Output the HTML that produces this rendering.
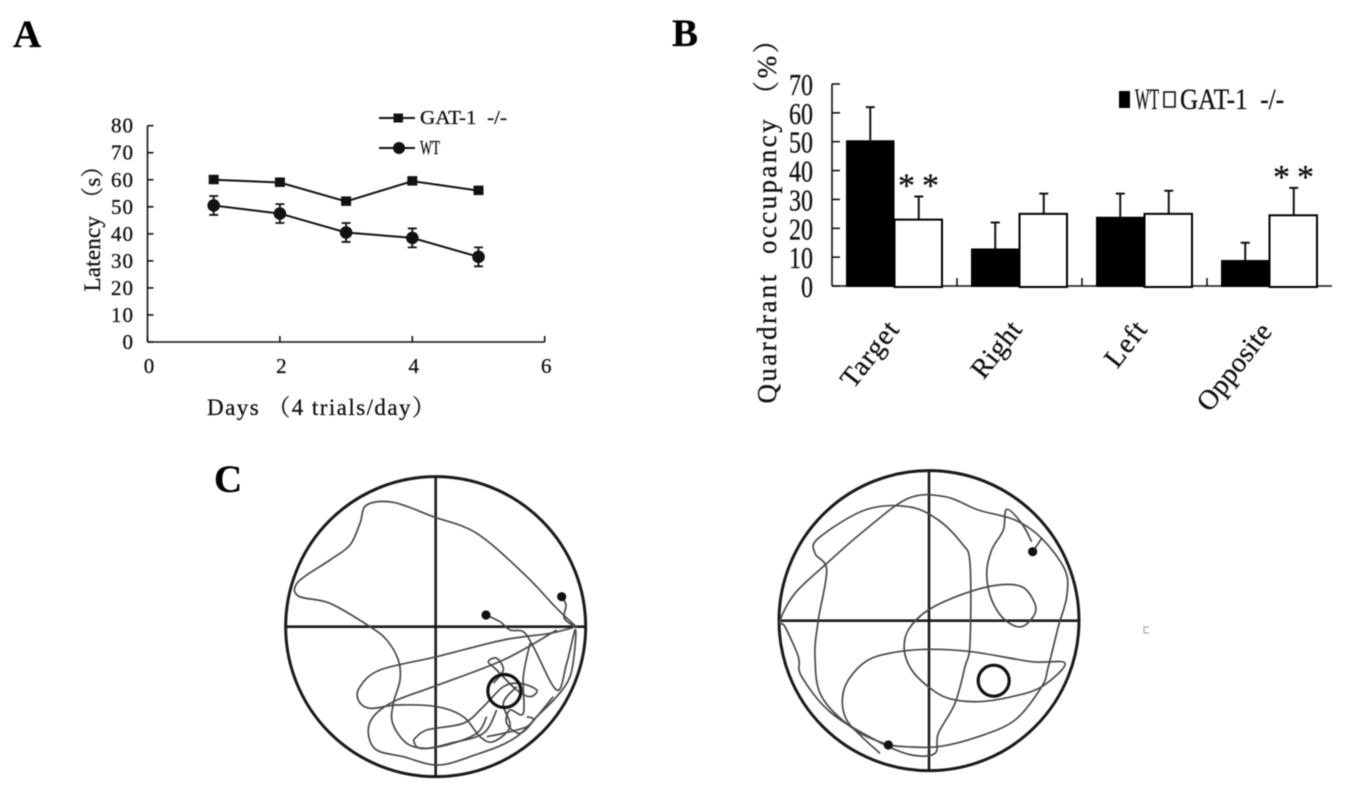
<!DOCTYPE html>
<html lang="en">
<head>
<meta charset="utf-8">
<title>Latency, quadrant occupancy and swim paths</title>
<style>
html,body{margin:0;padding:0;background:#fff;width:1351px;height:800px;overflow:hidden}
svg{display:block;font-family:"Liberation Serif","Noto Serif CJK SC",serif;filter:blur(0.45px)}
text{fill:#111;stroke:#111;stroke-width:.3;white-space:pre}
</style>
</head>
<body>
<svg id="figure" xmlns="http://www.w3.org/2000/svg" width="1351" height="800" viewBox="0 0 1351 800">
  <text x="13" y="47" font-size="39" font-weight="bold" style="fill:#000">A</text>
  <text x="672" y="46" font-size="39" font-weight="bold" style="fill:#000">B</text>
  <text x="214" y="492" font-size="39" font-weight="bold" style="fill:#000">C</text>

  <g id="chartA"></g>
  <g id="chartB"></g>
  <g id="mazeL"></g>
  <g id="mazeR"></g>

  <path d="M1149 627H1144V633H1149" fill="none" stroke="#999" stroke-width="1"/>
</svg>
<script>
// ---------- Chart A data ----------
const days = [1, 2, 3, 4, 5];
const gatLatency = [60, 59, 52, 59.5, 56];
const wtLatency = [50.5, 47.5, 40.5, 38.5, 31.5];
const wtLatencyError = [3.5, 3.5, 3.5, 3.5, 3.5];
const latencyTicks = [0, 10, 20, 30, 40, 50, 60, 70, 80];
const dayTicks = [0, 2, 4, 6];

// ---------- Chart B data ----------
const quadrants = ['Target', 'Right', 'Left', 'Opposite'];
const wtOccupancy = [50.5, 13, 24, 9];
const gatOccupancy = [23, 25, 25, 24.5];
const wtOccupancyTop = [62, 22, 32, 15];
const gatOccupancyTop = [31, 32, 33, 34];
const occupancyTicks = [0, 10, 20, 30, 40, 50, 60, 70];
const significantQuadrants = ['Target', 'Opposite'];

// ---------- Swim paths (maze coordinates) ----------
const leftStart = [648, 435];
const leftEnd = [875, 380];
const leftPlatform = [703, 663];
const leftPaths = [
  [[875,380],[888,405],[883,445],[918,470],[860,415],[760,310],[620,190],[490,140],[370,97],[290,105],[270,160],[240,225],[180,270],[85,335],[85,378],[180,400],[300,470],[350,510],[385,570],[390,630],[370,700],[368,760],[410,820],[470,835],[540,820],[640,790],[680,720]],
  [[648,435],[690,455],[720,480],[760,485],[790,530],[860,660],[890,580],[915,480],[915,530],[900,620],[860,680],[800,740],[770,770],[700,790],[650,800]],
  [[918,470],[840,490],[700,510],[500,560],[330,600],[270,650],[265,690],[300,715],[380,705],[500,710],[580,740],[630,800],[670,815],[720,770],[700,700],[740,650]],
  [[860,480],[700,570],[490,650],[370,695],[310,740],[295,790],[320,840],[400,860],[500,885],[600,860],[740,800],[850,680]],
  [[780,520],[760,620],[760,730],[720,720],[710,760],[750,790],[790,750],[770,740]],
  [[430,810],[470,780],[580,760],[640,710],[700,650],[750,640],[800,660],[780,680],[740,660],[680,600],[655,575],[680,565],[700,600],[670,640]],
  [[430,810],[450,835],[530,825],[620,790],[650,740]]
];
const rightStart = [803, 245];
const rightEnd = [370, 825];
const rightPlatform = [686, 632];
const rightPaths = [
  [[803,245],[830,205]],
  [[800,215],[770,160],[725,118],[715,180],[680,240],[665,310],[680,390],[720,450],[770,470],[810,430],[805,390],[770,350],[700,345],[600,370],[490,420],[430,480],[418,540],[440,600],[490,650],[550,685],[640,695],[740,680],[830,650],[900,580],[800,575],[620,545],[500,538],[400,545],[310,570],[250,630],[232,690],[245,750],[290,800],[345,850]],
  [[370,825],[270,780],[170,680],[150,560],[160,450],[185,300],[150,250],[160,205],[300,120],[430,110],[520,150],[590,220],[615,280],[615,520],[600,590],[570,700],[520,790],[510,850],[440,855],[350,820],[200,730],[110,620],[100,560],[60,470],[45,452],[90,370],[180,285],[300,180],[430,85],[540,80],[640,120],[750,150],[830,205],[900,300],[905,380],[880,470],[850,590],[830,650],[750,750],[640,800],[520,830],[420,830],[370,825]]
];

// ---------- Helpers ----------
const NS = 'http://www.w3.org/2000/svg';
function mk(tag, attrs, parent) {
  const el = document.createElementNS(NS, tag);
  for (const k in attrs) el.setAttribute(k, attrs[k]);
  parent.appendChild(el);
  return el;
}
function line(parent, x1, y1, x2, y2, w, color) {
  return mk('line', {x1: x1, y1: y1, x2: x2, y2: y2, stroke: color || '#111', 'stroke-width': w}, parent);
}
function label(parent, s, x, y, size, anchor, len, extra, adjust) {
  const a = Object.assign({x: x, y: y, 'font-size': size, 'text-anchor': anchor || 'start'}, extra || {});
  if (len) { a.textLength = len; a.lengthAdjust = adjust || 'spacingAndGlyphs'; }
  const t = mk('text', a, parent);
  t.textContent = s;
  return t;
}
function smooth(pts, tx, ty) {
  let d = 'M' + tx(pts[0][0]).toFixed(1) + ' ' + ty(pts[0][1]).toFixed(1);
  for (let i = 0; i < pts.length - 1; i++) {
    const p0 = pts[Math.max(i - 1, 0)], p1 = pts[i], p2 = pts[i + 1], p3 = pts[Math.min(i + 2, pts.length - 1)];
    const c1x = p1[0] + (p2[0] - p0[0]) / 6, c1y = p1[1] + (p2[1] - p0[1]) / 6;
    const c2x = p2[0] - (p3[0] - p1[0]) / 6, c2y = p2[1] - (p3[1] - p1[1]) / 6;
    d += 'C' + tx(c1x).toFixed(1) + ' ' + ty(c1y).toFixed(1) + ' ' + tx(c2x).toFixed(1) + ' ' + ty(c2y).toFixed(1) + ' ' + tx(p2[0]).toFixed(1) + ' ' + ty(p2[1]).toFixed(1);
  }
  return d;
}

// ---------- Chart A ----------
(function () {
  const g = document.getElementById('chartA');
  const xA = v => 147.5 + v * (544.7 - 147.5) / 6;
  const yA = v => 342 - v * (342 - 125.7) / 80;
  const xAxis = line(g, xA(0), yA(0), xA(6), yA(0), 1.6);
  
  
  const yAxis = line(g, xA(0), yA(0), xA(0), yA(80), 1.6);
  
  
  latencyTicks.forEach(v => {
    const t = line(g, xA(0), yA(v), xA(0) + 6, yA(v), 1.6);
    
    
    const l = label(g, String(v), 133, yA(v) + 7, 21, 'end', String(v).length * 11, null, 'spacing');
    
    
  });
  dayTicks.forEach(v => {
    const t = line(g, xA(v), yA(0), xA(v), yA(0) - 6, 1.6);
    
    
    const l = label(g, String(v), xA(v) + 1.5, 373, 21, 'middle');
    
    
  });
  const xt = label(g, 'Days （4 trials/day）', 207, 415, 23, 'start', 228, null, 'spacing');
  
  
  const yt = label(g, 'Latency （s）', 0, 0, 23, 'middle', 137, {transform: 'translate(100 223) rotate(-90)'}, 'spacing');
  
  

  const gatLine = mk('polyline', {points: days.map((d, i) => xA(d) + ',' + yA(gatLatency[i])).join(' '), fill: 'none', stroke: '#111', 'stroke-width': 2}, g);
  
  
  const wtLine = mk('polyline', {points: days.map((d, i) => xA(d) + ',' + yA(wtLatency[i])).join(' '), fill: 'none', stroke: '#111', 'stroke-width': 2}, g);
  
  
  days.forEach((d, i) => {
    const sq = mk('rect', {x: xA(d) - 5, y: yA(gatLatency[i]) - 5, width: 10, height: 9.5, fill: '#111'}, g);
    
    
    const hi = yA(wtLatency[i] + wtLatencyError[i]), lo = yA(wtLatency[i] - wtLatencyError[i]);
    const eb = mk('path', {d: 'M' + (xA(d) - 4.5) + ' ' + hi + 'H' + (xA(d) + 4.5) + 'M' + xA(d) + ' ' + hi + 'V' + lo + 'M' + (xA(d) - 4.5) + ' ' + lo + 'H' + (xA(d) + 4.5), fill: 'none', stroke: '#111', 'stroke-width': 1.8}, g);
    
    
    const c = mk('circle', {cx: xA(d), cy: yA(wtLatency[i]), r: 6.3, fill: '#111'}, g);
    
    
  });
  const k1 = line(g, 379, 118, 415, 118, 2);
  
  
  const k1m = mk('rect', {x: 393.5, y: 113.5, width: 9.5, height: 9, fill: '#111'}, g);
  
  
  const k1t = label(g, 'GAT-1  -/-', 420, 124, 20, 'start', 87);
  
  
  const k2 = line(g, 379, 148, 415, 148, 2);
  
  
  const k2m = mk('circle', {cx: 399, cy: 148, r: 6, fill: '#111'}, g);
  
  
  const k2t = label(g, 'WT', 420, 154, 20, 'start', 20);
  
  
})();

// ---------- Chart B ----------
(function () {
  const g = document.getElementById('chartB');
  const left = 832, step = 125, barW = 48.5, barStart = 14;
  const yB = v => 286 - v * (286 - 84) / 70;
  const catX = i => left + step * i;
  const xAxis = line(g, left, yB(0), catX(4), yB(0), 1.6);
  
  
  const yAxis = line(g, left, yB(0), left, yB(70), 1.6);
  
  
  occupancyTicks.forEach(v => {
    const t = line(g, left, yB(v), left + 8, yB(v), 1.6);
    
    
    const s = String(v);
    const l = label(g, s, 813, yB(v) + 11, 31, 'end', s.length * 12);
    
    
  });
  quadrants.forEach((q, i) => {
    if (i > 0) {
      const t = line(g, catX(i), yB(0), catX(i), yB(0) - 8, 1.6);
      
      
    }
    const x0 = catX(i) + barStart, x1 = x0 + barW;
    const ew = mk('path', {d: 'M' + (x0 + barW / 2) + ' ' + yB(wtOccupancy[i]) + 'V' + yB(wtOccupancyTop[i]) + 'm-4.5 0h9', fill: 'none', stroke: '#111', 'stroke-width': 2}, g);
    
    
    const eg = mk('path', {d: 'M' + (x1 + barW / 2) + ' ' + yB(gatOccupancy[i]) + 'V' + yB(gatOccupancyTop[i]) + 'm-4.5 0h9', fill: 'none', stroke: '#111', 'stroke-width': 2}, g);
    
    
    const bw = mk('rect', {x: x0, y: yB(wtOccupancy[i]), width: barW, height: yB(0) - yB(wtOccupancy[i]) + 1, fill: '#000'}, g);
    
    
    const bg = mk('rect', {x: x1, y: yB(gatOccupancy[i]), width: barW - 1, height: yB(0) - yB(gatOccupancy[i]) + 1, fill: '#fff', stroke: '#000', 'stroke-width': 2}, g);
    
    
    if (significantQuadrants.indexOf(q) >= 0) {
      const sy = yB(gatOccupancyTop[i]) - 22;
      const s1 = label(g, '*', x1 + 12, sy + 22, 34, 'middle');
      
      
      const s2 = label(g, '*', x1 + 36, sy + 22, 34, 'middle');
      
      
    }
  });
  const anchors = [[900, 330], [1023, 330], [1148, 330], [1273, 332]];
  const lengths = [76, 64, 50, 103];
  quadrants.forEach((q, i) => {
    const t = label(g, q, 0, 0, 28, 'end', lengths[i], {transform: 'translate(' + anchors[i][0] + ' ' + anchors[i][1] + ') rotate(-52)'}, 'spacing');
    
    
  });
  const yt = label(g, 'Quardrant  occupancy （%）', 0, 0, 27, 'middle', 377, {transform: 'translate(776 215) rotate(-90)'}, 'spacing');
  
  
  const s1 = mk('rect', {x: 1119, y: 91, width: 11, height: 17, fill: '#000'}, g);
  
  
  const t1 = label(g, 'WT', 1135, 109, 30, 'start', 24);
  
  
  const s2 = mk('rect', {x: 1164, y: 92, width: 11, height: 15, fill: '#fff', stroke: '#111', 'stroke-width': 1.6}, g);
  
  
  const t2 = label(g, 'GAT-1  -/-', 1180, 109, 30, 'start', 104);
  
  
})();

// ---------- Swim mazes ----------
function drawMaze(id, ox, oy, paths, start, end, platform, platR) {
  const g = document.getElementById(id);
  const tx = v => ox + v / 3, ty = v => oy + v / 3;
  const cx = tx(id === 'mazeL' ? 497 : 492), cy = ty(id === 'mazeL' ? 470 : 452);
  const pool = mk('circle', {cx: cx, cy: cy, r: 150, fill: 'none', stroke: '#1a1a1a', 'stroke-width': 3}, g);
  
  
  const hz = line(g, cx - 151, cy, cx + 151, cy, 2.6, '#1a1a1a');
  
  
  const vt = line(g, cx, cy - 151, cx, cy + 151, 2.6, '#1a1a1a');
  
  
  paths.forEach(p => {
    const s = mk('path', {d: smooth(p, tx, ty), fill: 'none', stroke: '#484848', 'stroke-width': 1.7}, g);
    
    
  });
  const plat = mk('circle', {cx: tx(platform[0]), cy: ty(platform[1]), r: platR, fill: 'none', stroke: '#111', 'stroke-width': 3.2}, g);
  
  
  const a = mk('circle', {cx: tx(start[0]), cy: ty(start[1]), r: 4.6, fill: '#111'}, g);
  
  
  const b = mk('circle', {cx: tx(end[0]), cy: ty(end[1]), r: 4.6, fill: '#111'}, g);
  
  
}
drawMaze('mazeL', 270, 470, leftPaths, leftStart, leftEnd, leftPlatform, 16.5);
drawMaze('mazeR', 765, 470, rightPaths, rightStart, rightEnd, rightPlatform, 15.5);
</script>
</body>
</html>
